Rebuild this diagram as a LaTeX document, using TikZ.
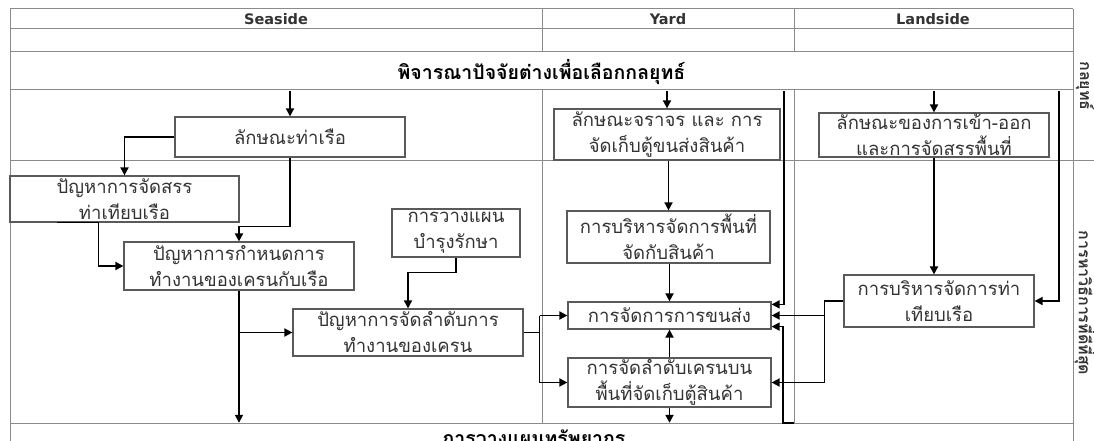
\documentclass[tikz,border=0pt]{standalone}
\usepackage{fontspec}
\setmainfont{Loma}[Script=Thai]
\newfontfamily\hdrfam{DejaVu Sans}
\usetikzlibrary{arrows.meta,calc}
\definecolor{tline}{HTML}{8A8A8A}
\definecolor{bline}{HTML}{5A5A5A}
\definecolor{txt}{HTML}{333333}
\newcommand\txtfnt{\fontsize{18.5}{26}\selectfont}
\newcommand\ttlfnt{\fontsize{19.5}{22}\selectfont\bfseries}
\newcommand\hdrfnt{\hdrfam\fontsize{14.5}{16}\selectfont\bfseries}
\newcommand\sidefnt{\fontsize{16}{18}\selectfont\bfseries}
\tikzset{
  box/.style={draw=bline, line width=1.2pt, fill=white, align=center, inner sep=0pt, font=\txtfnt, text=txt},
  conn/.style={draw=black, line width=1.7pt, -{Triangle[length=8pt,width=8pt]}},
  link/.style={draw=black, line width=1.7pt},
  gridline/.style={draw=tline, line width=1pt},
  ttl/.style={font=\ttlfnt, text=black, inner sep=0pt},
  hdr/.style={font=\hdrfnt, text=txt, inner sep=0pt},
  side/.style={font=\sidefnt, text=txt, inner sep=0pt, rotate=-90},
}
\begin{document}
\begin{tikzpicture}[x=1pt,y=-1pt]
\useasboundingbox (0,0) rectangle (1094,441);
% table grid
\draw[gridline] (10,9) -- (1073,9);
\draw[gridline] (10,29) -- (1073,29);
\draw[gridline] (10,52) -- (1073,52);
\draw[gridline] (10,90) -- (1073,90);
\draw[gridline] (10,160) -- (1094,160);
\draw[gridline] (10,423) -- (1073,423);
\draw[gridline] (10,9) -- (10,445);
\draw[gridline] (1073,9) -- (1073,445);
\draw[gridline] (542,9) -- (542,52);
\draw[gridline] (542,90) -- (542,423);
\draw[gridline] (794,9) -- (794,52);
\draw[gridline] (794,90) -- (794,423);
% headers
\node[hdr] (hS) at (276,19) {Seaside};
\node[hdr] (hY) at (668,19) {Yard};
\node[hdr] (hL) at (933,19) {Landside};
% strategy / resource rows
\node[ttl, minimum width=1063pt, minimum height=38pt] (S) at (541.5,72) {พิจารณาปัจจัยต่างเพื่อเลือกกลยุทธ์};
\node[ttl, minimum width=1063pt, minimum height=30pt] (R) at (534,438) {การวางแผนทรัพยากร};
% side labels
\node[side] (g1) at (1085,86) {กลยุทธ์};
\node[side] (g2) at (1085,303) {การหาวิธีการที่ดีที่สุด};
% seaside boxes
\node[box, minimum width=230pt, minimum height=40pt] (b1) at (290,137) {ลักษณะท่าเรือ};
\node[box, minimum width=229pt, minimum height=46pt] (b2) at (124.5,199) {ปัญหาการจัดสรร\\ท่าเทียบเรือ};
\node[box, minimum width=230pt, minimum height=48pt] (b3) at (239,266) {ปัญหาการกำหนดการ\\ทำงานของเครนกับเรือ};
\node[box, minimum width=128pt, minimum height=48pt] (b4) at (456,233) {การวางแผน\\บำรุงรักษา};
\node[box, minimum width=230pt, minimum height=47pt] (b5) at (408,332.5) {ปัญหาการจัดลำดับการ\\ทำงานของเครน};
% yard boxes
\node[box, minimum width=226pt, minimum height=51pt] (y1) at (667,134.5) {ลักษณะจราจร และ การ\\จัดเก็บตู้ขนส่งสินค้า};
\node[box, minimum width=203pt, minimum height=52pt] (y2) at (668.5,237) {การบริหารจัดการพื้นที่\\จัดกับสินค้า};
\node[box, minimum width=203pt, minimum height=27pt] (y3) at (669.5,315.5) {การจัดการการขนส่ง};
\node[box, minimum width=203pt, minimum height=49pt] (y4) at (669.5,382.5) {การจัดลำดับเครนบน\\พื้นที่จัดเก็บตู้สินค้า};
% landside boxes
\node[box, minimum width=230pt, minimum height=44pt] (l1) at (934,135) {ลักษณะของการเข้า-ออก\\และการจัดสรรพื้นที่};
\node[box, minimum width=190pt, minimum height=52pt] (l2) at (939,301) {การบริหารจัดการท่า\\เทียบเรือ};
% helper coordinates
\coordinate (xA) at (784,0);
\coordinate (xB) at (1059,0);
\coordinate (xC) at (794,423);
% strategy arrows
\draw[conn] (b1.north |- S.south) -- (b1.north);
\draw[conn] (y1.north |- S.south) -- (y1.north);
\draw[conn] (l1.north |- S.south) -- (l1.north);
\draw[conn] (xA |- S.south) |- ($(y3.north east)+(0,3)$);
\draw[conn] (xB |- S.south) |- (l2.east);
% seaside connectors
\draw[conn] (b1.west) -| (b2.north);
\draw[conn] (b1.south) -- ++(0,69) -| (b3.north);
\draw[conn] ($(b2.south west)+(48,0)$) -- ($(b2.south west)+(89,0)$) |- (b3.west);
\draw[conn] (b4.south) -- ++(0,15) -| (b5.north);
\draw[conn] (b3.south) -- (b3.south |- R.north);
\draw[conn] (b3.south |- b5.west) -- (b5.west);
\coordinate (br) at ($(b5.east)+(16,0)$);
\draw[link] (b5.east) -- (br) (br |- y3.west) -- (br |- y4.west);
\draw[conn] (br |- y3.west) -- (y3.west);
\draw[conn] (br |- y4.west) -- (y4.west);
% yard connectors
\draw[conn] (y2.north |- y1.south) -- (y2.north);
\draw[conn] (y3.north |- y2.south) -- (y3.north);
\draw[conn] (y4.north) -- (y4.north |- y3.south);
\draw[conn] (y4.south) -- (y4.south |- R.north);
\draw[conn] (xC) -- ++(-11,0) |- ($(y3.south east)+(0,-3)$);
% landside connectors
\draw[conn] (l1.south) -- (l1.south |- l2.north);
\coordinate (lc) at ($(l2.west)+(-19,0)$);
\draw[link] (l2.west) -- (lc) -- (lc |- y4.east);
\draw[conn] (lc |- y3.east) -- (y3.east);
\draw[conn] (lc |- y4.east) -- (y4.east);
\end{tikzpicture}
\end{document}
